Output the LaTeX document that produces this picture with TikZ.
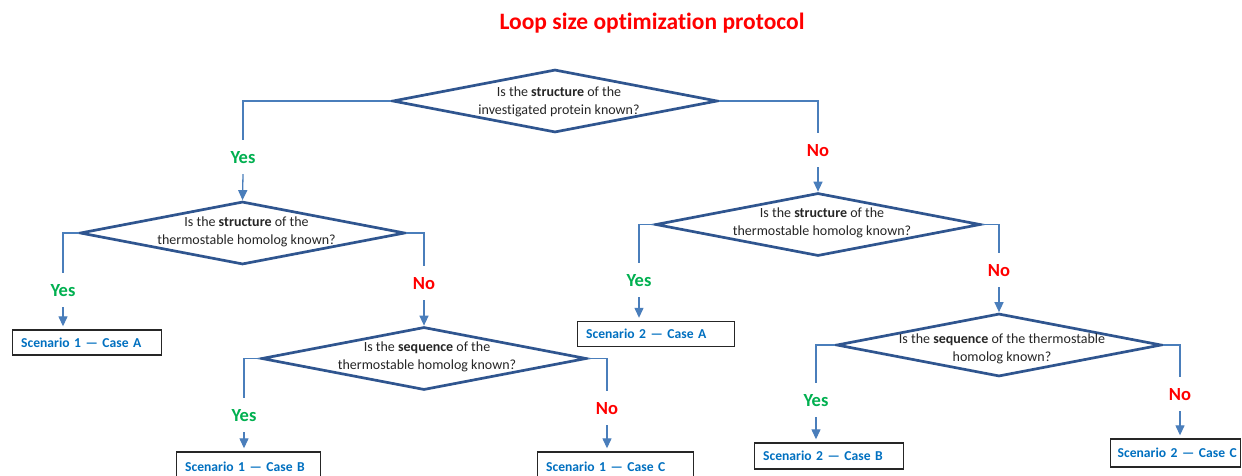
\documentclass[tikz,border=0pt]{standalone}
\usepackage{fontspec}
\setmainfont{Carlito}[Ligatures=NoCommon]
\usetikzlibrary{shapes.geometric,arrows.meta}
\definecolor{dborder}{RGB}{47,85,143}
\definecolor{connc}{RGB}{74,126,187}
\definecolor{yesgreen}{RGB}{0,176,80}
\definecolor{nored}{RGB}{255,0,0}
\definecolor{boxblue}{RGB}{0,112,192}
\definecolor{qgray}{RGB}{38,38,38}
\begin{document}
\begin{tikzpicture}[x=1pt,y=-1pt,
  dia/.style={draw=dborder, line width=2.7pt, diamond, inner sep=0pt, minimum width=325pt, minimum height=63pt},
  qtext/.style={font=\fontsize{14}{18}\selectfont, text=qgray, align=center, inner sep=0pt},
  lab/.style={font=\bfseries\fontsize{18.5}{20}\selectfont, inner sep=0pt, minimum height=34pt, text height=12pt, text depth=0pt},
  yes/.style={lab, text=yesgreen},
  no/.style={lab, text=nored},
  conn/.style={draw=connc, line width=1.3pt},
  arr/.style={conn, -{Triangle[width=9pt,length=10pt]}},
  barr/.style={arr, shorten >=3pt},
  res/.style={draw=black!85, line width=1.4pt, rectangle, minimum height=#1, inner xsep=8.5pt, inner ysep=0pt, align=left, font=\bfseries\fontsize{13.6}{15}\selectfont, text=boxblue, anchor=west},
  res/.default=25pt
]
\fill[white] (0,0) rectangle (1242,475);
\useasboundingbox (0,0) rectangle (1242,475);

\node[font=\bfseries\fontsize{23.5}{28}\selectfont, text=nored, anchor=base] (title) at (652,29.5) {Loop size optimization protocol};

% diamonds
\node[dia] (d1) at (555,101) {};
\node[qtext] (t1) at (559,101.5) {Is the \textbf{structure} of the\\investigated protein known?};
\node[dia] (d2) at (242.5,233) {};
\node[qtext] (t2) at (246.5,232) {Is the \textbf{structure} of the\\thermostable homolog known?};
\node[dia] (d3) at (818,224.5) {};
\node[qtext] (t3) at (822,223) {Is the \textbf{structure} of the\\thermostable homolog known?};
\node[dia] (d4) at (424,358.5) {};
\node[qtext] (t4) at (427,356.5) {Is the \textbf{sequence} of the\\thermostable homolog known?};
\node[dia] (d5) at (999,345) {};
\node[qtext] (t5) at (1002,349) {Is the \textbf{sequence} of the thermostable\\homolog known?};

% labels
\node[yes] (y1) at (243,157) {Yes};
\node[no]  (n1) at (818,150) {No};
\node[yes] (y2) at (63,290) {Yes};
\node[no]  (n2) at (424,283) {No};
\node[yes] (y4) at (244,415) {Yes};
\node[no]  (n4) at (607,408) {No};
\node[yes] (y3) at (639,280) {Yes};
\node[no]  (n3) at (999,270) {No};
\node[yes] (y5) at (816,400) {Yes};
\node[no]  (n5) at (1180,394) {No};

% result boxes
\node[res, text width=132pt] (a1) at (12,342.5) {\mbox{Scenario 1 — Case A}};
\node[res, text width=140pt] (a2) at (577,334) {\mbox{Scenario 2 — Case A}};
\node[res=30pt, text width=127pt] (b1) at (176,467) {\mbox{Scenario 1 — Case B}};
\node[res=30pt, text width=139pt] (c1) at (537,467) {\mbox{Scenario 1 — Case C}};
\node[res=26pt, text width=132pt] (b2) at (754,456) {\mbox{Scenario 2 — Case B}};
\node[res=28pt, inner xsep=7pt, text width=116pt] (c2) at (1110,453) {\mbox{Scenario 2 — Case C}};

% connectors
\draw[conn] (d1.west) -| (y1.north);
\draw[arr] (y1.south) -- (d2.north);
\draw[conn] (d1.east) -| (n1.north);
\draw[arr] (n1.south) -- (d3.north);

\draw[conn] (d2.west) -| (y2.north);
\draw[barr] (y2.south) -- (y2.south |- a1.north);
\draw[conn] (d2.east) -| (n2.north);
\draw[arr] (n2.south) -- (d4.north);

\draw[conn] (d4.west) -| (y4.north);
\draw[barr] (y4.south) -- (y4.south |- b1.north);
\draw[conn] (d4.east) -| (n4.north);
\draw[barr] (n4.south) -- (n4.south |- c1.north);

\draw[conn] (d3.west) -| (y3.north);
\draw[barr] (y3.south) -- (y3.south |- a2.north);
\draw[conn] (d3.east) -| (n3.north);
\draw[arr] (n3.south) -- (d5.north);

\draw[conn] (d5.west) -| (y5.north);
\draw[barr] (y5.south) -- (y5.south |- b2.north);
\draw[conn] (d5.east) -| (n5.north);
\draw[barr] (n5.south) -- (n5.south |- c2.north);
\end{tikzpicture}
\end{document}
